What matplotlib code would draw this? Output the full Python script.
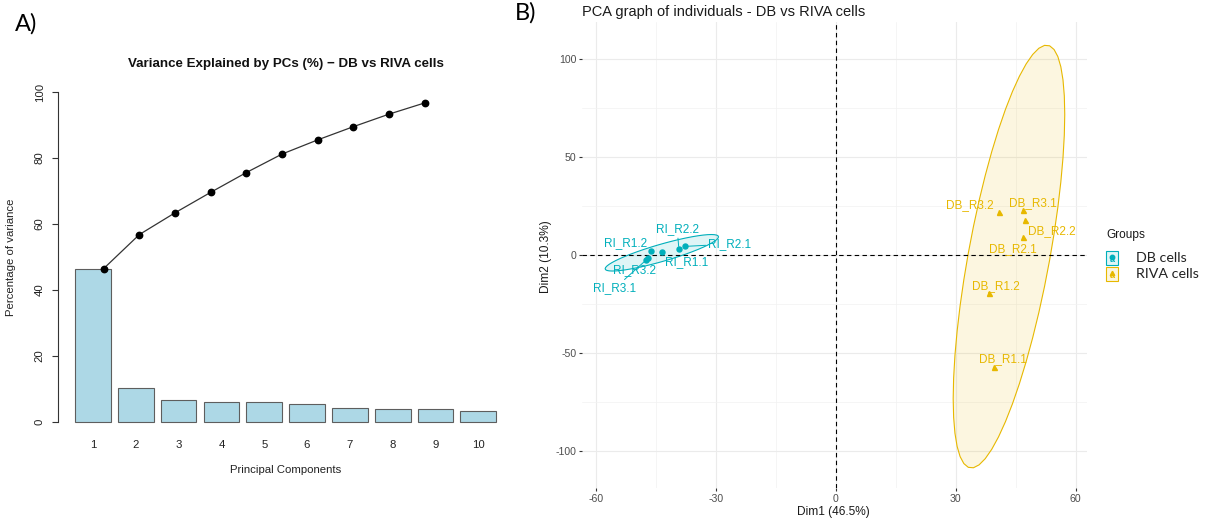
import numpy as np
import matplotlib
matplotlib.use("Agg")
import matplotlib.pyplot as plt
from matplotlib.patches import Polygon, Rectangle

plt.rcParams['font.family'] = ['Liberation Sans', 'DejaVu Sans']
plt.rcParams['axes.unicode_minus'] = False

W, H = 1211, 524

# scree plot: variance explained by each principal component (%)
pcs = [1, 2, 3, 4, 5, 6, 7, 8, 9, 10]
variance = [46.5, 10.3, 6.6, 6.2, 6.0, 5.6, 4.3, 4.0, 3.8, 3.4]
cumulative = np.cumsum(variance)

# individuals on the first two dimensions
db_names = ["RI_R1.1", "RI_R1.2", "RI_R2.1", "RI_R2.2", "RI_R3.1", "RI_R3.2"]
db_dim1 = [-43.5, -46.2, -37.6, -39.2, -47.4, -46.8]
db_dim2 = [1.3, 2.0, 4.4, 3.3, -2.6, -1.6]

riva_names = ["DB_R1.1", "DB_R1.2", "DB_R2.1", "DB_R2.2", "DB_R3.1", "DB_R3.2"]
riva_dim1 = [39.6, 38.4, 46.8, 47.3, 46.8, 40.9]
riva_dim2 = [-57.0, -19.6, 9.0, 18.0, 22.8, 22.0]

group_names = ["DB cells", "RIVA cells"]
group_colors = ["#00AFBB", "#E7B800"]

# repelled label positions (dim1, dim2)
label_pos = {
    "RI_R1.1": (-37.3, -3.4), "RI_R1.2": (-52.4, 6.0), "RI_R2.1": (-26.4, 5.6),
    "RI_R2.2": (-39.6, 13.1), "RI_R3.1": (-55.2, -17.0), "RI_R3.2": (-50.2, -7.7),
    "DB_R1.1": (41.9, -53.1), "DB_R1.2": (40.0, -15.8), "DB_R2.1": (44.2, 3.1),
    "DB_R2.2": (54.0, 12.4), "DB_R3.1": (49.2, 26.4), "DB_R3.2": (33.6, 25.5),
}
with_segment = ["RI_R2.1", "RI_R2.2", "RI_R3.1"]


def fx(px):
    return px / W


def fy(py):
    return 1 - py / H


def norm_ellipse(x, y, level=0.95, segments=51):
    # same construction as ggplot2::stat_ellipse(type = "norm")
    pts = np.column_stack([x, y])
    n = len(pts)
    dfd = n - 1
    fq = dfd / 2 * ((1 - level) ** (-2 / dfd) - 1)  # qf(level, 2, dfd)
    radius = np.sqrt(2 * fq)
    chol = np.linalg.cholesky(np.cov(pts, rowvar=False)).T
    t = np.linspace(0, 2 * np.pi, segments)
    circle = np.column_stack([np.cos(t), np.sin(t)])
    return pts.mean(axis=0) + radius * circle @ chol


fig = plt.figure(figsize=(W / 100, H / 100), dpi=100)

# ---------------- A) scree plot ----------------
ax1 = fig.add_axes([fx(58.3), fy(435.2), (513 - 58.3) / W, (435.2 - 78.8) / H])
bar_x = 0.7 + 1.2 * np.arange(len(pcs))
ax1.bar(bar_x, variance, width=1.0, color="#ADD8E6", edgecolor="#5E5E5E", linewidth=0.8)
# cumulative line is placed on 1..10, as in the original R code
ax1.plot(pcs, cumulative, color="#333333", linewidth=0.9, zorder=3)
ax1.plot(pcs, cumulative, "o", color="black", markersize=4.6, zorder=4)
ax1.set_xlim(-0.272, 12.472)
ax1.set_ylim(-4, 104)
for s in ["top", "right", "bottom"]:
    ax1.spines[s].set_visible(False)
ax1.spines["left"].set_bounds(0, 100)
ax1.spines["left"].set_color("#333333")
ax1.spines["left"].set_linewidth(0.8)
ax1.set_yticks(range(0, 101, 20))
ax1.set_yticklabels([str(v) for v in range(0, 101, 20)], rotation=90, va="center")
ax1.tick_params(axis="y", length=4.3, width=0.8, color="#333333", labelsize=8.2,
                labelcolor="#222222", pad=5.5)
ax1.set_xticks(bar_x)
ax1.set_xticklabels([str(p) for p in pcs])
ax1.tick_params(axis="x", length=0, labelsize=8.2, labelcolor="#222222", pad=3.5)
ax1.set_facecolor("none")

fig.text(fx(286), fy(64.3), "Variance Explained by PCs (%) \u2212 DB vs RIVA cells",
         ha="center", va="center", fontsize=9.6, fontweight="bold", color="#111111")
fig.text(fx(285.6), fy(470), "Principal Components", ha="center", va="center",
         fontsize=8.2, color="#222222")
fig.text(fx(11), fy(257), "Percentage of variance", ha="center", va="center",
         rotation=90, fontsize=8.2, color="#222222")
fig.text(fx(15), fy(24), "A)", ha="left", va="center", fontsize=17,
         family=["Lato", "DejaVu Sans"], color="black")

# ---------------- B) PCA individuals ----------------
ax2 = fig.add_axes([fx(582), fy(488), (1087 - 582) / W, (488 - 22) / H])
ax2.set_xlim(-63.4, 62.8)
ax2.set_ylim(-119, 119)
ax2.set_xticks([-60, -30, 0, 30, 60])
ax2.set_yticks([-100, -50, 0, 50, 100])
ax2.set_xticks([-45, -15, 15, 45], minor=True)
ax2.set_yticks([-75, -25, 25, 75], minor=True)
ax2.grid(which="major", color="#EBEBEB", linewidth=0.8)
ax2.grid(which="minor", color="#F2F2F2", linewidth=0.5)
ax2.set_axisbelow(True)
for s in ax2.spines.values():
    s.set_visible(False)
ax2.tick_params(which="major", length=2.4, width=0.8, color="#333333",
                labelsize=7.6, labelcolor="#4D4D4D", pad=1.8)
ax2.tick_params(which="minor", length=0)

groups = [
    (db_names, db_dim1, db_dim2, group_colors[0], "o"),
    (riva_names, riva_dim1, riva_dim2, group_colors[1], "^"),
]
for names, d1, d2, col, mk in groups:
    ell = norm_ellipse(d1, d2)
    ax2.add_patch(Polygon(ell, closed=True, facecolor=col, alpha=0.12, edgecolor="none", zorder=1))
    ax2.add_patch(Polygon(ell, closed=True, facecolor="none", edgecolor=col, linewidth=0.8, zorder=2))
    ax2.plot(d1, d2, mk, color=col, markersize=3.6, linestyle="none", zorder=4)
    for name, x, y in zip(names, d1, d2):
        lx, ly = label_pos[name]
        if name in with_segment:
            ax2.annotate(name, xy=(x, y), xytext=(lx, ly), ha="center", va="center",
                         fontsize=8.5, color=col, zorder=5,
                         arrowprops=dict(arrowstyle="-", color=col, linewidth=0.7,
                                         shrinkA=0, shrinkB=1.5))
        else:
            ax2.text(lx, ly, name, ha="center", va="center", fontsize=8.5, color=col, zorder=5)

ax2.axhline(0, color="black", linewidth=0.8, linestyle=(0, (4, 3)), zorder=3)
ax2.axvline(0, color="black", linewidth=0.8, linestyle=(0, (4, 3)), zorder=3)

fig.text(fx(581.7), fy(11.7), "PCA graph of individuals - DB vs RIVA cells", ha="left",
         va="center", fontsize=10.5, color="#1A1A1A")
fig.text(fx(833), fy(512), "Dim1 (46.5%)", ha="center", va="center", fontsize=8.6,
         color="#1A1A1A")
fig.text(fx(546), fy(257), "Dim2 (10.3%)", ha="center", va="center", rotation=90,
         fontsize=8.6, color="#1A1A1A")
fig.text(fx(515), fy(12.5), "B)", ha="left", va="center", fontsize=17,
         family=["Lato", "DejaVu Sans"], color="black")

# legend
fig.text(fx(1106), fy(235), "Groups", ha="left", va="center", fontsize=8.6, color="#1A1A1A")
key_top = [251, 267]
for name, col, top, mk in zip(group_names, group_colors, key_top, ["o", "^"]):
    fig.add_artist(Rectangle((fx(1106), fy(top + 14)), 12 / W, 14 / H,
                             transform=fig.transFigure, facecolor=col, alpha=0.12,
                             edgecolor="none"))
    fig.add_artist(Rectangle((fx(1106), fy(top + 14)), 12 / W, 14 / H,
                             transform=fig.transFigure, facecolor="none",
                             edgecolor=col, linewidth=0.8))
    fig.text(fx(1112), fy(top + 8), "a", ha="center", va="center", fontsize=6.5,
             color=col, fontweight="bold")
    fig.add_artist(plt.Line2D([fx(1112)], [fy(top + 6)], marker=mk, color=col,
                              markersize=3.2, transform=fig.transFigure))
    fig.text(fx(1136), fy(top + 7), name, ha="left", va="center", fontsize=10.3,
             family=["Lato", "DejaVu Sans"], color="#222222")

fig.savefig("out.png", dpi=100)
